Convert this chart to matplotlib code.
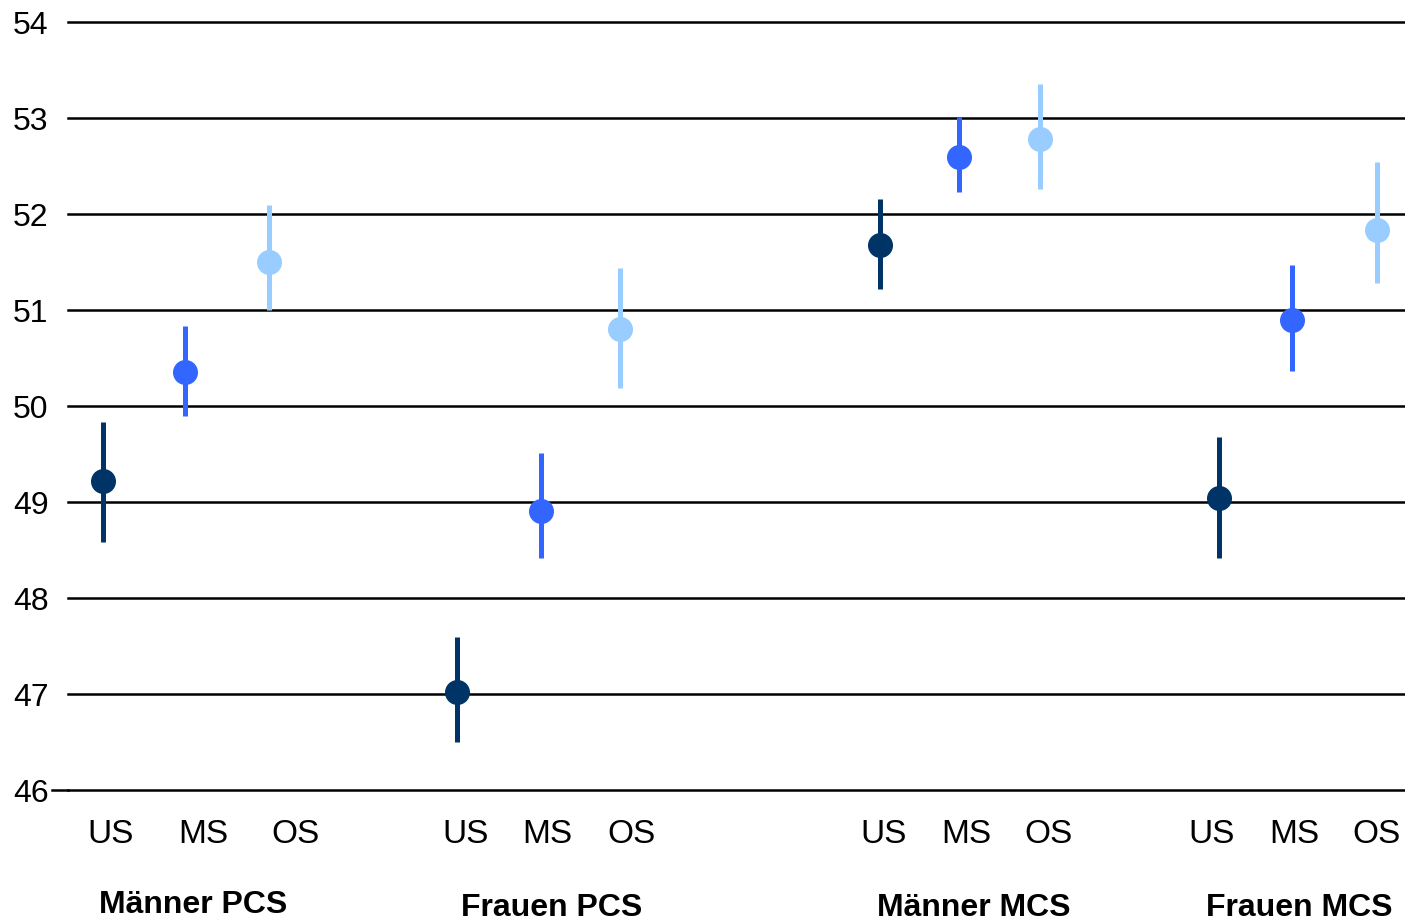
import matplotlib.pyplot as plt

plt.rcParams['font.family'] = ['Liberation Sans', 'DejaVu Sans']

groups = ["Männer PCS", "Frauen PCS", "Männer MCS", "Frauen MCS"]
levels = ["US", "MS", "OS"]

# mean score with lower / upper interval bound, per group in order US, MS, OS
means = [[49.22, 50.35, 51.50],
         [47.02, 48.91, 50.80],
         [51.68, 52.59, 52.78],
         [49.04, 50.90, 51.83]]
lower = [[48.58, 49.90, 51.00],
         [46.50, 48.42, 50.19],
         [51.22, 52.23, 52.26],
         [48.42, 50.36, 51.28]]
upper = [[49.83, 50.83, 52.09],
         [47.59, 49.51, 51.44],
         [52.16, 53.01, 53.35],
         [49.68, 51.47, 52.54]]

colors = ["#003366", "#3366FF", "#99CCFF"]

# horizontal layout (category slots)
xpos = [[0.43, 1.43, 2.45], [4.74, 5.77, 6.73], [9.90, 10.87, 11.85], [14.04, 14.93, 15.96]]
label_x = [[0.52, 1.65, 2.77], [4.85, 5.85, 6.87], [9.95, 10.95, 11.96], [13.95, 14.95, 15.96]]
group_x = [1.52, 5.90, 11.04, 15.01]
group_y = [-0.150, -0.154, -0.154, -0.154]

W, H = 1405, 921
fig = plt.figure(figsize=(W / 100, H / 100), dpi=100)
ax = fig.add_axes([68 / W, (H - 790) / H, 1337 / W, 768 / H])

for g in range(len(groups)):
    for k in range(len(levels)):
        m = means[g][k]
        ax.errorbar(xpos[g][k], m,
                    yerr=[[m - lower[g][k]], [upper[g][k] - m]],
                    fmt='o', color=colors[k], ecolor=colors[k],
                    elinewidth=3.6, capsize=0, markersize=17, zorder=3)
        ax.text(label_x[g][k], -0.058, levels[k], transform=ax.get_xaxis_transform(),
                ha='center', va='center', fontsize=24)
    ax.text(group_x[g], group_y[g], groups[g], transform=ax.get_xaxis_transform(),
            ha='center', va='center', fontsize=23, fontweight='bold')

ax.set_xlim(0, 1337 / 82)
ax.set_ylim(46, 54)
ax.set_yticks(range(46, 55))
ax.set_xticks([])
for y in range(46, 55):
    ax.axhline(y, color='black', lw=1.8, zorder=1, clip_on=False)
ax.plot([-0.012, 0], [46, 46], color='black', lw=1.8, transform=ax.get_yaxis_transform(),
        clip_on=False)
for s in ax.spines.values():
    s.set_visible(False)
ax.tick_params(axis='y', length=0, pad=14, labelsize=23)

fig.savefig("out.png", dpi=100)
